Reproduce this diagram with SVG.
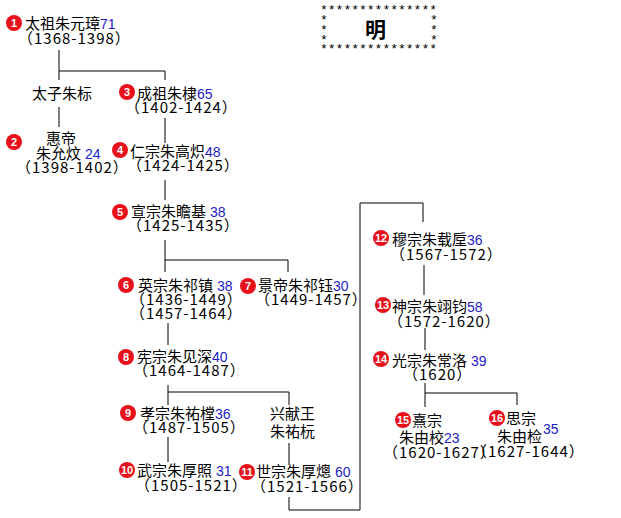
<svg xmlns="http://www.w3.org/2000/svg" width="621" height="518" viewBox="0 0 621 518">
<style>
text{font-family:"Noto Sans CJK SC","Liberation Sans",sans-serif;font-size:15px;fill:#000}
.y{letter-spacing:1px}
.a{fill:#1c1cc8;font-family:"Liberation Sans",sans-serif;font-size:14px}
.c{fill:#e8101a}
.n{fill:#fff;font-family:"Liberation Sans",sans-serif;font-weight:bold;font-size:11px;text-anchor:middle}
.s{font-family:"Liberation Mono",monospace;font-size:13px}
line,polyline{stroke:#000;stroke-width:1;fill:none}
</style>
<rect width="621" height="518" fill="#fff"/>
<g id="title">
<text class="s" x="320" y="14">***************</text>
<text class="s" x="320" y="53">***************</text>
<text class="s" x="320" y="24">*</text><text class="s" x="320" y="34">*</text><text class="s" x="320" y="44">*</text>
<text class="s" x="430" y="24">*</text><text class="s" x="430" y="34">*</text><text class="s" x="430" y="44">*</text>
<text x="365" y="37" style="font-size:21px;font-weight:bold;font-family:'Noto Sans CJK SC',serif">明</text>
</g>
<g id="connectors">
<line x1="59" y1="50" x2="59" y2="80"/><line x1="59" y1="71" x2="165" y2="71"/><line x1="165" y1="71" x2="165" y2="80"/>
<line x1="59" y1="107" x2="59" y2="127"/>
<line x1="165" y1="118" x2="165" y2="143"/>
<line x1="165" y1="180" x2="165" y2="200"/>
<line x1="165" y1="240" x2="165" y2="272"/><line x1="165" y1="260" x2="288" y2="260"/><line x1="288" y1="260" x2="288" y2="272"/>
<line x1="168" y1="323" x2="168" y2="345"/>
<line x1="168" y1="385" x2="168" y2="405"/><line x1="168" y1="392" x2="289" y2="392"/><line x1="289" y1="392" x2="289" y2="405"/>
<line x1="168" y1="437" x2="168" y2="462"/><line x1="289" y1="443" x2="289" y2="465"/>
<polyline points="289,497 289,510 360,510 360,203 423,203 423,222"/>
<line x1="424" y1="265" x2="424" y2="295"/>
<line x1="425" y1="328" x2="425" y2="350"/>
<line x1="425" y1="383" x2="425" y2="407"/><line x1="425" y1="393" x2="517" y2="393"/><line x1="517" y1="393" x2="517" y2="405"/>
</g>
<g id="n1"><circle class="c" cx="14" cy="23" r="8"/><text class="n" x="14" y="27">1</text><text x="25" y="29">太祖朱元璋<tspan class="a">71</tspan></text><text class="y" x="18" y="44">（1368-1398）</text></g>
<g id="zb"><text x="32" y="99">太子朱标</text></g>
<g id="n2"><circle class="c" cx="14" cy="142" r="8"/><text class="n" x="14" y="146">2</text><text x="46" y="144">惠帝</text><text x="36" y="159">朱允炆<tspan class="a"> 24</tspan></text><text class="y" x="16" y="173">（1398-1402）</text></g>
<g id="n3"><circle class="c" cx="127" cy="92" r="8"/><text class="n" x="127" y="96">3</text><text x="137" y="99">成祖朱棣<tspan class="a">65</tspan></text><text class="y" x="125" y="113">（1402-1424）</text></g>
<g id="n4"><circle class="c" cx="120" cy="150" r="8"/><text class="n" x="120" y="154">4</text><text x="130" y="157">仁宗朱高炽<tspan class="a">48</tspan></text><text class="y" x="127" y="171">（1424-1425）</text></g>
<g id="n5"><circle class="c" cx="120" cy="212" r="8"/><text class="n" x="120" y="216">5</text><text x="131" y="217">宣宗朱瞻基<tspan class="a"> 38</tspan></text><text class="y" x="127" y="231">（1425-1435）</text></g>
<g id="n6"><circle class="c" cx="126" cy="285" r="8"/><text class="n" x="126" y="289">6</text><text x="138" y="291">英宗朱祁镇<tspan class="a"> 38</tspan></text><text class="y" x="130" y="305">（1436-1449）</text><text class="y" x="130" y="319">（1457-1464）</text></g>
<g id="n7"><circle class="c" cx="248" cy="286" r="8"/><text class="n" x="248" y="290">7</text><text x="258" y="291">景帝朱祁钰<tspan class="a">30</tspan></text><text class="y" x="255" y="305">（1449-1457）</text></g>
<g id="n8"><circle class="c" cx="126" cy="357" r="8"/><text class="n" x="126" y="361">8</text><text x="137" y="362">宪宗朱见深<tspan class="a">40</tspan></text><text class="y" x="133" y="376">（1464-1487）</text></g>
<g id="n9"><circle class="c" cx="128" cy="413" r="8"/><text class="n" x="128" y="417">9</text><text x="140" y="419">孝宗朱祐樘<tspan class="a">36</tspan></text><text class="y" x="133" y="433">（1487-1505）</text></g>
<g id="xw"><text x="270" y="419">兴献王</text><text x="270" y="437">朱祐杬</text></g>
<g id="n10"><circle class="c" cx="127" cy="470" r="8"/><text class="n" x="127" y="474">10</text><text x="137" y="476">武宗朱厚照<tspan class="a"> 31</tspan></text><text class="y" x="135" y="491">（1505-1521）</text></g>
<g id="n11"><circle class="c" cx="247" cy="472" r="8"/><text class="n" x="247" y="476">11</text><text x="256" y="477">世宗朱厚熜<tspan class="a"> 60</tspan></text><text class="y" x="251" y="492">（1521-1566）</text></g>
<g id="n12"><circle class="c" cx="381" cy="238" r="8"/><text class="n" x="381" y="242">12</text><text x="392" y="245">穆宗朱载垕<tspan class="a">36</tspan></text><text class="y" x="390" y="260">（1567-1572）</text></g>
<g id="n13"><circle class="c" cx="383" cy="305" r="8"/><text class="n" x="383" y="309">13</text><text x="392" y="312">神宗朱翊钧<tspan class="a">58</tspan></text><text class="y" x="388" y="327">（1572-1620）</text></g>
<g id="n14"><circle class="c" cx="381" cy="359" r="8"/><text class="n" x="381" y="363">14</text><text x="392" y="366">光宗朱常洛<tspan class="a"> 39</tspan></text><text class="y" x="403" y="380">（1620）</text></g>
<g id="n15"><circle class="c" cx="403" cy="420" r="8"/><text class="n" x="403" y="424">15</text><text x="412" y="426">熹宗</text><text x="399" y="443">朱由校<tspan class="a">23</tspan></text><text class="y" x="383" y="458">（1620-1627）</text></g>
<g id="n16"><circle class="c" cx="497" cy="418" r="8"/><text class="n" x="497" y="422">16</text><text x="506" y="424">思宗</text><text x="497" y="442">朱由检</text><text class="a" x="543" y="434">35</text><text class="y" x="472" y="457">（1627-1644）</text></g>
</svg>
